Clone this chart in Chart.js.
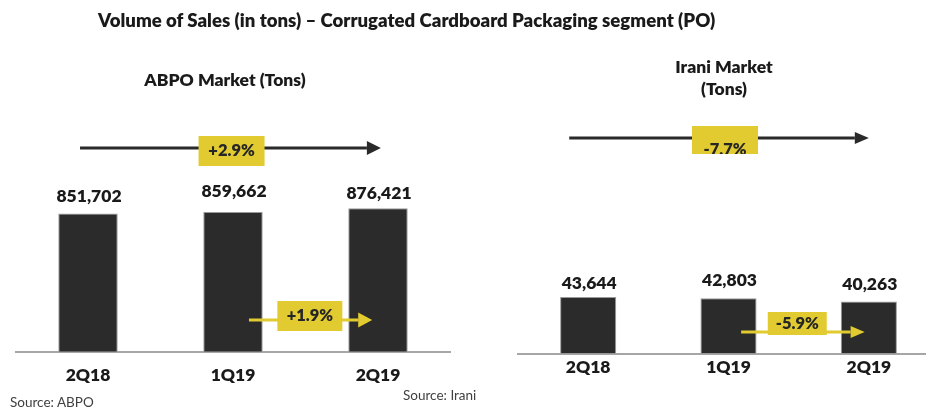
<!DOCTYPE html>
<html lang="en">
<head>
<meta charset="UTF-8" />
<title>Volume of Sales (in tons) - Corrugated Cardboard Packaging segment (PO)</title>
<script src="https://cdn.jsdelivr.net/npm/chart.js"></script>
<style>
  body { margin: 0; width: 926px; height: 410px; overflow: hidden; background: #fff; position: relative; font-family: Lato, sans-serif; color: #1a1a1a; }
  .txt { position: absolute; white-space: nowrap; font-weight: 800; line-height: 1; }
  .src { position: absolute; white-space: nowrap; font-size: 13.5px; line-height: 1; color: #404040; }
  canvas { position: absolute; top: 0; }
</style>
</head>
<body>
  <canvas id="abpoChart" width="470" height="410" style="left:0"></canvas>
  <canvas id="iraniChart" width="480" height="410" style="left:470px"></canvas>

  <div class="txt" style="left:98px; top:11px; font-size:18.6px;">Volume of Sales (in tons) – Corrugated Cardboard Packaging segment (PO)</div>
  <div class="txt" style="left:125px; width:200px; text-align:center; top:71px; font-size:17.5px;">ABPO Market (Tons)</div>
  <div class="txt" style="left:624px; width:200px; text-align:center; top:55.5px; font-size:17.5px; line-height:22px;">Irani Market<br>(Tons)</div>

  <div class="src" style="left:10px; top:396px;">Source: ABPO</div>
  <div class="src" style="left:403px; top:389px;">Source: Irani</div>

<script>
// --- data ---
const quarters = ["2Q18", "1Q19", "2Q19"];
const abpoTons = [851702, 859662, 876421];
const iraniTons = [43644, 42803, 40263];
const abpoGrowth = ["+2.9%", "+1.9%"];   // 2Q19 vs 2Q18, 2Q19 vs 1Q19
const iraniGrowth = ["-7.7%", "-5.9%"];

const BAR = "#2b2b2b";
const YELLOW = "#e2cb31";
const DARK = "#2a2a2a";

// value labels above each bar
const barValues = {
  id: "barValues",
  afterDatasetsDraw(chart, args, opts) {
    const ctx = chart.ctx;
    const meta = chart.getDatasetMeta(0);
    ctx.save();
    ctx.font = "800 17.5px Lato";
    ctx.fillStyle = "#1a1a1a";
    ctx.textAlign = "center";
    ctx.textBaseline = "middle";
    meta.data.forEach((bar, i) => {
      const v = chart.data.datasets[0].data[i];
      ctx.fillText(v.toLocaleString("en-US"), bar.x + 1, bar.y - opts.gap[i]);
    });
    ctx.restore();
  }
};

// growth arrows with yellow boxes, x given in category units
const growthArrows = {
  id: "growthArrows",
  afterDraw(chart, args, opts) {
    const ctx = chart.ctx;
    const xs = chart.scales.x;
    const c0 = xs.getPixelForValue(0);
    const step = xs.getPixelForValue(1) - c0;
    const px = f => c0 + f * step;
    ctx.save();
    opts.items.forEach(it => {
      const x1 = px(it.from), x2 = px(it.to);
      ctx.strokeStyle = it.color;
      ctx.fillStyle = it.color;
      ctx.lineWidth = 3;
      ctx.beginPath();
      ctx.moveTo(x1, it.y);
      ctx.lineTo(x2 - it.head, it.y);
      ctx.stroke();
      ctx.beginPath();
      ctx.moveTo(x2, it.y);
      ctx.lineTo(x2 - it.head, it.y - it.half);
      ctx.lineTo(x2 - it.head, it.y + it.half);
      ctx.closePath();
      ctx.fill();

      const bx = px(it.box) - it.w / 2;
      ctx.fillStyle = YELLOW;
      ctx.fillRect(bx, it.top, it.w, it.h);
      // label is clipped to its box (the -7.7% one runs over the edge)
      ctx.save();
      ctx.beginPath();
      ctx.rect(bx, it.top, it.w, it.h);
      ctx.clip();
      ctx.font = "800 16.5px Lato";
      ctx.fillStyle = "#262626";
      ctx.textAlign = "center";
      ctx.textBaseline = "middle";
      ctx.fillText(it.text, px(it.box), it.ty);
      ctx.restore();
    });
    ctx.restore();
  }
};

function makeChart(id, values, cfg) {
  return new Chart(document.getElementById(id), {
    type: "bar",
    data: {
      labels: quarters,
      datasets: [{
        data: values,
        backgroundColor: BAR,
        borderColor: "#9a9a9a",
        borderWidth: 1,
        barPercentage: cfg.barPct,
        categoryPercentage: 1
      }]
    },
    options: {
      responsive: false,
      animation: false,
      layout: { padding: cfg.padding },
      scales: {
        x: {
          grid: { display: false, drawTicks: false },
          border: { display: true, color: "#a6a6a6", width: 2 },
          ticks: { font: { family: "Lato", size: 17.5, weight: "800" }, color: "#1a1a1a", padding: cfg.tickPad }
        },
        y: { display: false, min: cfg.min, max: cfg.max }
      },
      plugins: {
        legend: { display: false },
        tooltip: { enabled: false },
        barValues: { gap: cfg.gap },
        growthArrows: { items: cfg.arrows }
      }
    },
    plugins: [barValues, growthArrows]
  });
}

makeChart("abpoChart", abpoTons, {
  barPct: 0.41,
  padding: { left: 15.5, right: 19.5, top: 161, bottom: 11.4 },
  tickPad: 13,
  min: 200000, max: 1100000,
  gap: [17, 21, 15],
  arrows: [
    { from: -0.055, to: 2.02, y: 148, color: DARK, head: 14, half: 7, box: 0.99, w: 66, top: 136, h: 30, ty: 151, text: abpoGrowth[0] },
    { from: 1.11, to: 1.96, y: 320, color: YELLOW, head: 14, half: 7.5, box: 1.53, w: 65, top: 301, h: 30, ty: 316, text: abpoGrowth[1] }
  ]
});

makeChart("iraniChart", iraniTons, {
  barPct: 0.4,
  padding: { left: 48, right: 11, top: 224, bottom: 29.4 },
  tickPad: 3,
  min: 0, max: 100000,
  gap: [14, 18, 17],
  arrows: [
    { from: -0.135, to: 2.0, y: 138, color: DARK, head: 14, half: 6, box: 0.975, w: 66, top: 126, h: 28, ty: 150, text: iraniGrowth[0] },
    { from: 1.09, to: 1.97, y: 332, color: YELLOW, head: 14, half: 6, box: 1.49, w: 59, top: 312, h: 23, ty: 324, text: iraniGrowth[1] }
  ]
});
</script>
</body>
</html>
